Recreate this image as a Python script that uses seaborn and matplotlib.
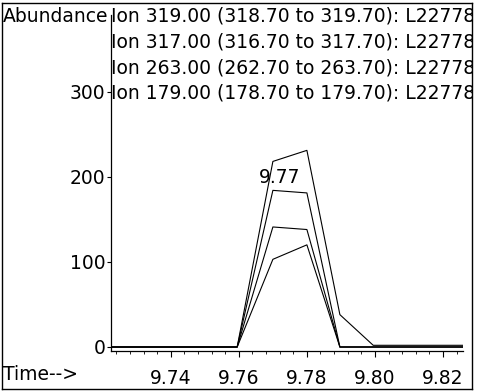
import numpy as np
import pandas as pd
import seaborn as sns
import matplotlib.pyplot as plt
from matplotlib.ticker import AutoMinorLocator

# scan times (min) and ion abundances
times = [9.7224, 9.730, 9.740, 9.750, 9.7595, 9.770, 9.780, 9.7897, 9.7995, 9.810, 9.820, 9.8259]
ion_319 = [0, 0, 0, 0, 0, 218, 231, 38, 2, 2, 2, 2]
ion_317 = [0, 0, 0, 0, 0, 184, 181, 0, 0, 0, 0, 0]
ion_263 = [0, 0, 0, 0, 0, 141, 138, 0, 0, 0, 0, 0]
ion_179 = [0, 0, 0, 0, 0, 103, 120, 0, 0, 0, 0, 0]
ion_labels = ["Ion 319.00 (318.70 to 319.70): L22778",
              "Ion 317.00 (316.70 to 317.70): L22778",
              "Ion 263.00 (262.70 to 263.70): L22778",
              "Ion 179.00 (178.70 to 179.70): L22778"]
rt_label = "9.77"
yticks = [0, 100, 200, 300]
xticks = [9.74, 9.76, 9.78, 9.80, 9.82]

W, H = 483, 391
FS = 13.5

sns.set_style("white")
plt.rcParams['font.family'] = ['DejaVu Sans']
plt.rcParams['text.color'] = 'black'
plt.rcParams['xtick.color'] = 'black'
plt.rcParams['ytick.color'] = 'black'

fig = plt.figure(figsize=(W / 100, H / 100), dpi=100)


def px_axes(left, top, right, bottom):
    # place an axes using pixel edges measured from the top-left corner
    return fig.add_axes([left / W, 1 - bottom / H, (right - left) / W, (bottom - top) / H])


# outer frame, holds the header texts (clipped at the right edge)
frame = px_axes(2, 3, 472, 389)
frame.set_xlim(0, W)
frame.set_ylim(H, 0)
frame.set_xticks([])
frame.set_yticks([])
for s in frame.spines.values():
    s.set_color("black")
    s.set_linewidth(1.0)
frame.set_facecolor("white")

frame.text(1, 19, "Abundance", fontsize=FS, va="baseline", ha="left", clip_on=True)
for i, lab in enumerate(ion_labels):
    frame.text(112, 19 + i * 26, lab, fontsize=FS, va="baseline", ha="left", clip_on=True)
frame.text(1, 382, "Time-->", fontsize=FS, va="baseline", ha="left", clip_on=True)

# plot area
ax = px_axes(111, 15, 463, 351)
ax.patch.set_alpha(0)

df = pd.DataFrame({
    "time": times * 4,
    "abundance": ion_319 + ion_317 + ion_263 + ion_179,
    "ion": sum([[lab] * len(times) for lab in ion_labels], []),
})
sns.lineplot(data=df, x="time", y="abundance", hue="ion", units="ion", estimator=None,
             palette=["black"] * 4, linewidth=0.8, legend=False, ax=ax)

apex = int(np.argmax(ion_317))
ax.annotate(rt_label, (times[apex], max(ion_319)), xytext=(5, -13), textcoords="offset points",
            ha="center", va="top", fontsize=FS)

ax.set_xlim(9.7224, 9.8259)
ax.set_ylim(-4.7, 390)
ax.set_xticks(xticks)
ax.set_xticklabels([f"{t:.2f}" for t in xticks])
ax.xaxis.set_minor_locator(AutoMinorLocator(5))
ax.set_yticks(yticks)
ax.set_yticklabels([str(v) for v in yticks])
ax.set_xlabel("")
ax.set_ylabel("")
ax.tick_params(axis="x", which="major", direction="out", length=4, width=0.8, pad=9,
               labelsize=FS, bottom=True)
ax.tick_params(axis="x", which="minor", direction="out", length=2.5, width=0.6, bottom=True)
ax.tick_params(axis="y", which="major", direction="out", length=3, width=0.8, pad=1,
               labelsize=FS, left=True)
for side in ["top", "right"]:
    ax.spines[side].set_visible(False)
for side in ["left", "bottom"]:
    ax.spines[side].set_color("black")
    ax.spines[side].set_linewidth(0.9)

fig.savefig("out.png", dpi=100)
